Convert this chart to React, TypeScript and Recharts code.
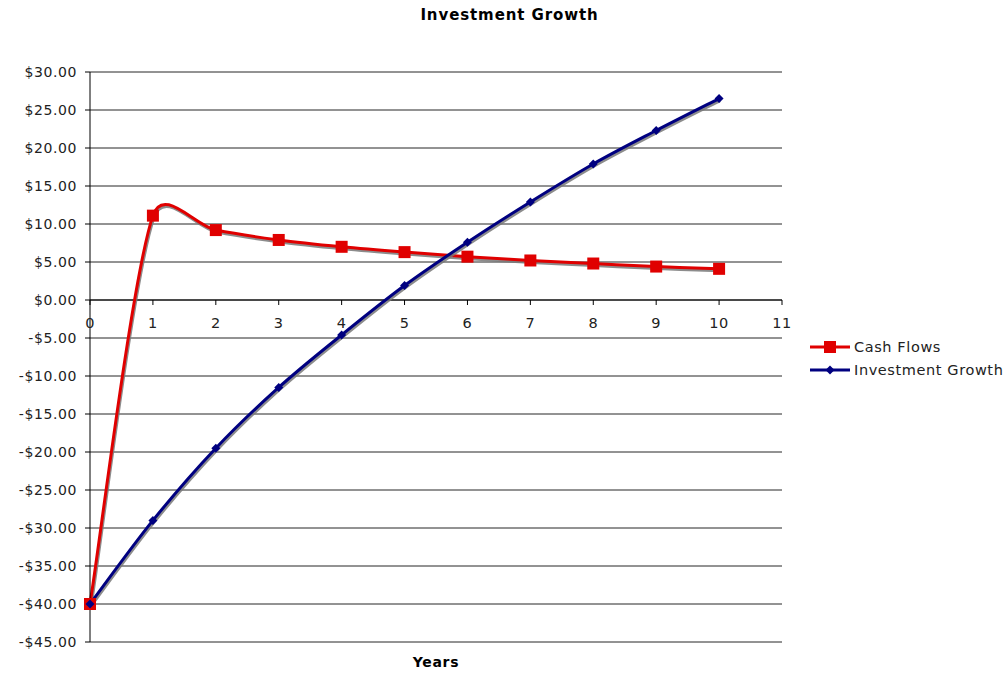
import React from "react";
import { LineChart, Line, XAxis, YAxis, CartesianGrid, ReferenceLine, Legend, Label } from "recharts";

const years = [0, 1, 2, 3, 4, 5, 6, 7, 8, 9, 10];
const cashFlows = [-40, 11.1, 9.2, 7.9, 7.0, 6.3, 5.7, 5.2, 4.8, 4.4, 4.1];
const investmentGrowth = [-40, -29.0, -19.5, -11.5, -4.6, 1.9, 7.6, 12.9, 17.9, 22.3, 26.5];
const xTicks = [0, 1, 2, 3, 4, 5, 6, 7, 8, 9, 10, 11];
const yTicks = [30, 25, 20, 15, 10, 5, 0, -5, -10, -15, -20, -25, -30, -35, -40, -45];
const Y_MIN = -45;
const Y_MAX = 30;

const data = years.map((y, i) => ({ year: y, cash: cashFlows[i], growth: investmentGrowth[i] }));

const W = 1007;
const H = 675;
const M = { top: 72, right: 225, bottom: 0, left: 0 };
const X_AXIS_H = 33;
const PLOT_H = H - M.top - M.bottom - X_AXIS_H;
const ZERO_Y = M.top + (PLOT_H * Y_MAX) / (Y_MAX - Y_MIN);

const FONT = "'DejaVu Sans', Verdana, sans-serif";

// Excel-like smoothing: Catmull-Rom tangents capped by segment length
function excelCurve(context: any) {
  let pts: number[][] = [];
  return {
    areaStart() {},
    areaEnd() {},
    lineStart() {
      pts = [];
    },
    point(x: number, y: number) {
      pts.push([+x, +y]);
    },
    lineEnd() {
      const n = pts.length;
      if (!n) return;
      context.moveTo(pts[0][0], pts[0][1]);
      if (n === 1) return;
      for (let i = 0; i < n - 1; i++) {
        const p0 = pts[Math.max(i - 1, 0)];
        const p1 = pts[i];
        const p2 = pts[i + 1];
        const p3 = pts[Math.min(i + 2, n - 1)];
        const seg = Math.hypot(p2[0] - p1[0], p2[1] - p1[1]);
        let t1 = [(p2[0] - p0[0]) / 6, (p2[1] - p0[1]) / 6];
        let t2 = [(p3[0] - p1[0]) / 6, (p3[1] - p1[1]) / 6];
        const cap = seg * 0.5;
        const l1 = Math.hypot(t1[0], t1[1]);
        if (l1 > cap && l1 > 0) t1 = [(t1[0] * cap) / l1, (t1[1] * cap) / l1];
        const l2 = Math.hypot(t2[0], t2[1]);
        if (l2 > cap && l2 > 0) t2 = [(t2[0] * cap) / l2, (t2[1] * cap) / l2];
        context.bezierCurveTo(p1[0] + t1[0], p1[1] + t1[1], p2[0] - t2[0], p2[1] - t2[1], p2[0], p2[1]);
      }
    },
  };
}

const XTick = (props: any) => {
  const { x, payload } = props;
  return (
    <g>
      <line x1={x} x2={x} y1={ZERO_Y} y2={ZERO_Y + 5} stroke="#000" />
      <text x={x} y={ZERO_Y + 28} textAnchor="middle" fontSize={14.5} fontFamily={FONT} fill="#222" letterSpacing={0.5}>
        {payload.value}
      </text>
    </g>
  );
};

const fmt = (v: number) => (v < 0 ? "-$" + Math.abs(v).toFixed(2) : "$" + v.toFixed(2));

const SquareDot = (props: any) => {
  const { cx, cy } = props;
  if (cx == null || cy == null) return null;
  return <rect x={cx - 6} y={cy - 6} width={12} height={12} fill="#e00000" />;
};

const DiamondDot = (props: any) => {
  const { cx, cy } = props;
  if (cx == null || cy == null) return null;
  return <path d={`M${cx},${cy - 4.5}L${cx + 4.5},${cy}L${cx},${cy + 4.5}L${cx - 4.5},${cy}Z`} fill="#000080" />;
};

const LegendContent = () => (
  <div style={{ fontFamily: FONT, fontSize: 14.5, color: "#222", letterSpacing: 0.6, whiteSpace: "nowrap" }}>
    <div style={{ display: "flex", alignItems: "center", height: 23 }}>
      <svg width={42} height={14}>
        <line x1={0} x2={40} y1={7} y2={7} stroke="#e00000" strokeWidth={3} />
        <rect x={14} y={1} width={12} height={12} fill="#e00000" />
      </svg>
      <span style={{ marginLeft: 2 }}>Cash Flows</span>
    </div>
    <div style={{ display: "flex", alignItems: "center", height: 23 }}>
      <svg width={42} height={14}>
        <line x1={0} x2={40} y1={7} y2={7} stroke="#000080" strokeWidth={3} />
        <path d="M20,2.5L24.5,7L20,11.5L15.5,7Z" fill="#000080" />
      </svg>
      <span style={{ marginLeft: 2 }}>Investment Growth</span>
    </div>
  </div>
);

export default function App() {
  return (
    <div style={{ position: "absolute", left: 0, top: 0, width: W, height: H, background: "#fff", overflow: "hidden" }}>
      <style>{`.recharts-line { filter: drop-shadow(1px 2px 0px rgba(120,120,120,0.85)); }`}</style>
      <div
        style={{
          position: "absolute",
          left: 6,
          top: 6,
          width: W,
          textAlign: "center",
          fontFamily: FONT,
          fontWeight: "bold",
          fontSize: 15,
          letterSpacing: 0.9,
          color: "#000",
        }}
      >
        Investment Growth
      </div>
      <LineChart width={W} height={H} data={data} margin={M}>
        <CartesianGrid vertical={false} stroke="#000" strokeOpacity={0.85} />
        <XAxis
          dataKey="year"
          type="number"
          domain={[0, 11]}
          ticks={xTicks}
          height={X_AXIS_H}
          axisLine={false}
          tickLine={false}
          tick={<XTick />}
          interval={0}
        >
          <Label
            value="Years"
            position="insideBottom"
            offset={8}
            style={{ fontFamily: FONT, fontWeight: "bold", fontSize: 14, fill: "#000", letterSpacing: 0.7 }}
          />
        </XAxis>
        <YAxis
          type="number"
          domain={[Y_MIN, Y_MAX]}
          ticks={yTicks}
          width={90}
          interval={0}
          tickFormatter={fmt}
          axisLine={{ stroke: "#000" }}
          tickLine={{ stroke: "#000" }}
          tickSize={5}
          tickMargin={8}
          tick={{ fontFamily: FONT, fontSize: 14, fill: "#222", letterSpacing: 0.6 }}
        />
        <ReferenceLine y={0} stroke="#000" />
        <Legend
          layout="vertical"
          align="center"
          verticalAlign="middle"
          content={<LegendContent />}
          wrapperStyle={{ position: "absolute", left: 810, top: 335, width: 197 }}
        />
        <Line
          type={excelCurve as any}
          dataKey="cash"
          name="Cash Flows"
          stroke="#e00000"
          strokeWidth={3}
          dot={<SquareDot />}
          activeDot={false}
          isAnimationActive={false}
        />
        <Line
          type={excelCurve as any}
          dataKey="growth"
          name="Investment Growth"
          stroke="#000080"
          strokeWidth={3}
          dot={<DiamondDot />}
          activeDot={false}
          isAnimationActive={false}
        />
      </LineChart>
    </div>
  );
}
